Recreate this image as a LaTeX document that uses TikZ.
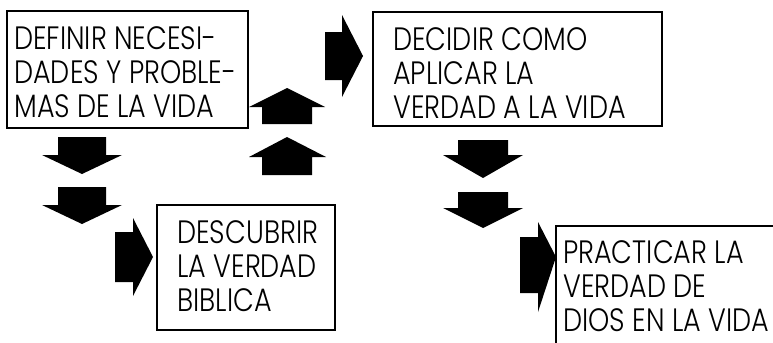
\documentclass[tikz,border=0pt]{standalone}
\usepackage{fontspec}
\IfFontExistsTF{Poppins Light}
  {\newfontfamily\boxfont[FakeStretch=0.835]{Poppins Light}}
  {\newfontfamily\boxfont[FakeStretch=0.835]{Poppins}}
\usepackage{tikz}

\begin{document}
\begin{tikzpicture}[x=0.025cm,y=-0.025cm,
    box/.style={draw,line width=0.35mm,anchor=north west,inner sep=0pt,outer sep=0pt},
    txt/.style={anchor=base west,inner sep=0pt,font=\boxfont\fontsize{23pt}{24.2pt}\selectfont},
    blockarrow/.style={fill=black}]
  \useasboundingbox (0,0) rectangle (773,342);
  \clip (0,0) rectangle (773,342);
  %\draw[step=50] (0,0) grid (773,342);

  % boxes
  \node[box,minimum width=6.025cm,minimum height=2.925cm] (needs) at (7,11) {};
  \node[box,minimum width=7.225cm,minimum height=2.85cm] (decide) at (373,12) {};
  \node[box,minimum width=4.45cm,minimum height=3.125cm] (truth) at (157,205) {};
  \node[box,minimum width=6.5cm,minimum height=4cm] (practice) at (556,226) {};

  \node[txt] (needstext) at (14,49)
  {\begin{tabular}[t]{@{}l}DEFINIR NECESI-\\DADES Y PROBLE-\\MAS DE LA VIDA\end{tabular}};
  \node[txt] (decidetext) at (393,50)
  {\begin{tabular}[t]{@{}l}DECIDIR COMO\\APLICAR LA\\VERDAD A LA VIDA\end{tabular}};
  \node[txt] (truthtext) at (177,243)
  {\begin{tabular}[t]{@{}l}DESCUBRIR\\LA VERDAD\\BIBLICA\end{tabular}};
  \node[txt] (practicetext) at (563,263)
  {\begin{tabular}[t]{@{}l}PRACTICAR LA\\VERDAD DE\\DIOS EN LA VIDA\end{tabular}};

  % arrows down on the left
  \fill[blockarrow] (58,137) -- (106,137) -- (106,155) -- (122,155) -- (82,174)
    -- (42,155) -- (58,155) -- cycle;
  \fill[blockarrow] (58,187) -- (106,187) -- (106,205) -- (122,205) -- (82,224)
    -- (42,205) -- (58,205) -- cycle;
  \fill[blockarrow] (115,232) -- (133,232) -- (133,218) -- (153,257) -- (133,296)
    -- (133,282) -- (115,282) -- cycle;

  % arrows up in the middle
  \fill[blockarrow] (262,124) -- (312,124) -- (312,107) -- (325,107) -- (287,88)
    -- (249,107) -- (262,107) -- cycle;
  \fill[blockarrow] (262,175) -- (312,175) -- (312,157) -- (326,157) -- (287,137)
    -- (249,157) -- (262,157) -- cycle;
  \fill[blockarrow] (325,32) -- (342,32) -- (342,15) -- (363,56) -- (342,97)
    -- (342,80) -- (325,80) -- cycle;

  % arrows down on the right
  \fill[blockarrow] (458,140) -- (508,140) -- (508,155) -- (523,155) -- (483,178)
    -- (443,155) -- (458,155) -- cycle;
  \fill[blockarrow] (458,192) -- (508,192) -- (508,208) -- (523,208) -- (483,228)
    -- (443,208) -- (458,208) -- cycle;
  \fill[blockarrow] (520,237) -- (538,237) -- (538,222) -- (556,257) -- (538,312)
    -- (538,293) -- (520,293) -- cycle;
\end{tikzpicture}
\end{document}
